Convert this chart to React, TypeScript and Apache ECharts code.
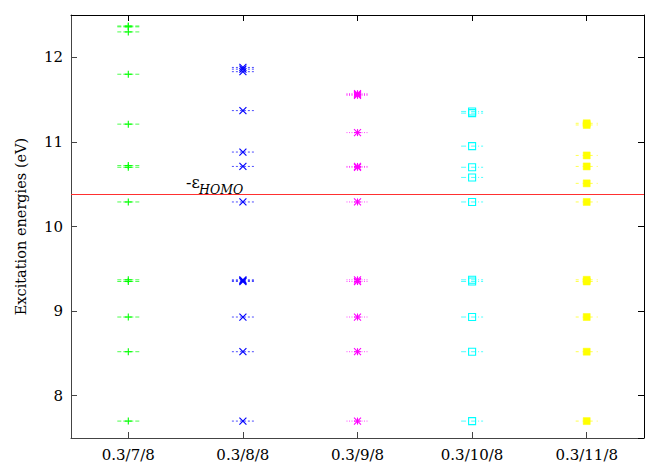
import React, { useEffect, useRef } from "react";
import * as echarts from "echarts";

const categories = ["0.3/7/8", "0.3/8/8", "0.3/9/8", "0.3/10/8", "0.3/11/8"];

const values_7 = [7.70, 8.52, 8.93, 9.35, 9.37, 10.29, 10.70, 10.72, 11.21, 11.80, 12.30, 12.36, 12.37];
const values_8 = [7.70, 8.52, 8.93, 9.35, 9.36, 9.37, 10.29, 10.71, 10.88, 11.37, 11.83, 11.86, 11.88];
const values_9 = [7.70, 8.52, 8.93, 9.35, 9.37, 10.29, 10.70, 10.71, 11.11, 11.55, 11.56, 11.57];
const values_10 = [7.70, 8.52, 8.93, 9.35, 9.37, 10.29, 10.58, 10.70, 10.95, 11.34, 11.36];
const values_11 = [7.70, 8.52, 8.93, 9.35, 9.37, 10.29, 10.51, 10.71, 10.84, 11.20, 11.22];

const homo = 10.385;
const yMin = 7.5;
const yMax = 12.5;

const seriesDefs = [
  { values: values_7, color: "#00ff00", dash: [4, 2], marker: "plus" },
  { values: values_8, color: "#0000ff", dash: [2, 2], marker: "cross" },
  { values: values_9, color: "#ff00ff", dash: [1, 1.5], marker: "star" },
  { values: values_10, color: "#00ffff", dash: [5, 2, 1, 2], marker: "square" },
  { values: values_11, color: "#ffff00", dash: [3, 4], marker: "fsquare" },
];

const FONT = "DejaVu Serif";

function makeRender(color: string, dash: number[], marker: string) {
  return (params: any, api: any) => {
    const p = api.coord([api.value(0), api.value(1)]);
    const x = p[0];
    const y = p[1];
    const hw = 11;
    const s = 3.5;
    const children: any[] = [
      {
        type: "line",
        shape: { x1: x - hw, y1: y, x2: x + hw, y2: y },
        style: { stroke: color, lineWidth: 1, lineDash: dash, opacity: 0.7 },
      },
    ];
    const ln = (x1: number, y1: number, x2: number, y2: number) => ({
      type: "line",
      shape: { x1, y1, x2, y2 },
      style: { stroke: color, lineWidth: 1.1 },
    });
    if (marker === "plus" || marker === "star") {
      children.push(ln(x - s, y, x + s, y));
      children.push(ln(x, y - s, x, y + s));
    }
    if (marker === "cross" || marker === "star") {
      children.push(ln(x - s, y - s, x + s, y + s));
      children.push(ln(x - s, y + s, x + s, y - s));
    }
    if (marker === "square") {
      children.push({
        type: "rect",
        shape: { x: x - s, y: y - s, width: 2 * s, height: 2 * s },
        style: { stroke: color, fill: "none", lineWidth: 1.1 },
      });
    }
    if (marker === "fsquare") {
      children.push({
        type: "rect",
        shape: { x: x - s, y: y - s, width: 2 * s, height: 2 * s },
        style: { fill: color, stroke: color, lineWidth: 0.5 },
      });
    }
    return { type: "group", children };
  };
}

export default function App() {
  const ref = useRef<HTMLDivElement>(null);
  useEffect(() => {
    document.body.style.margin = "0";
    if (!ref.current) return;
    const chart = echarts.init(ref.current, null, { renderer: "svg" });
    const series: any[] = seriesDefs.map((d, i) => ({
      type: "custom",
      renderItem: makeRender(d.color, d.dash, d.marker),
      data: d.values.map((v) => [i, v]),
      xAxisIndex: 0,
      yAxisIndex: 0,
      silent: true,
    }));
    series.push({
      type: "line",
      data: [],
      xAxisIndex: 0,
      yAxisIndex: 0,
      markLine: {
        silent: true,
        symbol: "none",
        label: { show: false },
        lineStyle: { color: "#ff3030", type: "solid", width: 1 },
        data: [{ yAxis: homo }],
      },
    });
    const axisLabelStyle = { color: "#000", fontFamily: FONT, fontSize: 15 };
    chart.setOption({
      animation: false,
      backgroundColor: "#fff",
      textStyle: { fontFamily: FONT },
      grid: { left: 71, right: 20, top: 15, bottom: 27 },
      xAxis: [
        {
          type: "category",
          data: categories,
          boundaryGap: true,
          position: "bottom",
          axisLine: { show: true, lineStyle: { color: "#444", width: 1 } },
          axisTick: { show: true, inside: true, alignWithLabel: true, length: 6, lineStyle: { color: "#444" } },
          axisLabel: { ...axisLabelStyle, margin: 9 },
          splitLine: { show: false },
        },
        {
          type: "category",
          data: categories,
          boundaryGap: true,
          position: "top",
          axisLine: { show: true, lineStyle: { color: "#000", width: 1 } },
          axisTick: { show: true, inside: true, alignWithLabel: true, length: 6, lineStyle: { color: "#000" } },
          axisLabel: { show: false },
          splitLine: { show: false },
        },
      ],
      yAxis: [
        {
          type: "value",
          min: yMin,
          max: yMax,
          splitNumber: 5,
          position: "left",
          name: "Excitation energies (eV)",
          nameLocation: "middle",
          nameGap: 43,
          nameRotate: 90,
          nameTextStyle: { color: "#000", fontFamily: FONT, fontSize: 14.5 },
          axisLine: { show: true, lineStyle: { color: "#444", width: 1 } },
          axisTick: { show: true, inside: true, length: 6, lineStyle: { color: "#444" } },
          axisLabel: { ...axisLabelStyle, margin: 8, showMinLabel: false, showMaxLabel: false },
          splitLine: { show: false },
        },
        {
          type: "value",
          min: yMin,
          max: yMax,
          splitNumber: 5,
          position: "right",
          axisLine: { show: true, lineStyle: { color: "#000", width: 1 } },
          axisTick: { show: true, inside: true, length: 6, lineStyle: { color: "#000" } },
          axisLabel: { show: false },
          splitLine: { show: false },
        },
      ],
      graphic: [
        {
          type: "text",
          x: 186,
          y: 190,
          style: {
            text: "-ε",
            fontFamily: FONT,
            fontSize: 16,
            fill: "#000",
            verticalAlign: "bottom",
            align: "left",
          },
        },
        {
          type: "text",
          x: 199,
          y: 196,
          style: {
            text: "HOMO",
            fontFamily: FONT,
            fontSize: 12.5,
            fontStyle: "italic",
            fill: "#000",
            verticalAlign: "bottom",
            align: "left",
          },
        },
      ],
      series,
    });
    return () => chart.dispose();
  }, []);
  return <div ref={ref} style={{ width: 664, height: 465 }} />;
}
